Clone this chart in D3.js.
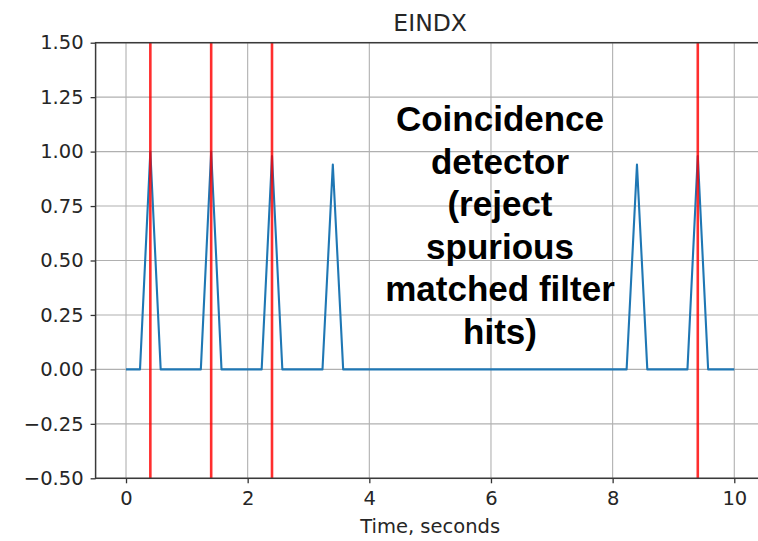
<!DOCTYPE html>
<html>
<head>
<meta charset="utf-8">
<script src="https://cdn.jsdelivr.net/npm/d3@7"></script>
<style>
  html, body { margin: 0; padding: 0; background: #fff; }
  svg { display: block; }
</style>
</head>
<body>
<script>
// EINDX signal samples (time in seconds, amplitude)
const sampleTimes  = [0, 0.23, 0.4, 0.57, 1.23, 1.4, 1.57, 2.23, 2.4, 2.57, 3.23, 3.4, 3.57, 8.23, 8.4, 8.57, 9.23, 9.4, 9.57, 10];
const sampleValues = [0, 0,    1.0, 0,    0,    1.0, 0,    0,    0.98, 0,   0,    0.94, 0,   0,    0.94, 0,   0,    0.98, 0,   0];

// Times of the coincidence detections (vertical markers)
const hitTimes = [0.4, 1.4, 2.4, 9.4];

// Axis ticks
const xTicks = [0, 2, 4, 6, 8, 10];
const yTicks = [-0.5, -0.25, 0, 0.25, 0.5, 0.75, 1.0, 1.25, 1.5];

const titleText = "EINDX";
const xLabelText = "Time, seconds";
const noteLines = ["Coincidence", "detector", "(reject", "spurious", "matched filter", "hits)"];

const W = 758, H = 541;
const plot = { left: 95.6, right: 764.7, top: 42.7, bottom: 478.3 };

const svg = d3.select("body").append("svg")
  .attr("width", W).attr("height", H);

const x = d3.scaleLinear().domain([-0.5, 10.5]).range([plot.left, plot.right]);
const y = d3.scaleLinear().domain([-0.5, 1.5]).range([plot.bottom, plot.top]);

const tickFont = "'DejaVu Sans', sans-serif";
const minusFmt = v => d3.format(".2f")(v).replace("-", "\u2212");

// Grid
const grid = svg.append("g").attr("stroke", "#b0b0b0").attr("stroke-width", 1.1);
grid.selectAll("line.gx").data(xTicks).join("line")
  .attr("x1", d => x(d)).attr("x2", d => x(d))
  .attr("y1", plot.top).attr("y2", plot.bottom);
grid.selectAll("line.gy").data(yTicks).join("line")
  .attr("x1", plot.left).attr("x2", plot.right)
  .attr("y1", d => y(d)).attr("y2", d => y(d));

// Signal line
const pts = sampleTimes.map((t, i) => [t, sampleValues[i]]);
const line = d3.line().x(d => x(d[0])).y(d => y(d[1]));
svg.append("path").datum(pts)
  .attr("d", line)
  .attr("fill", "none")
  .attr("stroke", "#1f77b4")
  .attr("stroke-width", 2.1)
  .attr("stroke-linejoin", "round");

// Detection markers
svg.append("g").selectAll("line").data(hitTimes).join("line")
  .attr("x1", d => x(d)).attr("x2", d => x(d))
  .attr("y1", plot.top).attr("y2", plot.bottom)
  .attr("stroke", "#ff0000")
  .attr("stroke-opacity", 0.82)
  .attr("stroke-width", 2.6);

// Axes
const xAxis = d3.axisBottom(x).tickValues(xTicks).tickFormat(d3.format("d"))
  .tickSize(5).tickPadding(8);
const yAxis = d3.axisLeft(y).tickValues(yTicks).tickFormat(minusFmt)
  .tickSize(5).tickPadding(7);

const gx = svg.append("g").attr("transform", `translate(0,${plot.bottom})`).call(xAxis);
const gy = svg.append("g").attr("transform", `translate(${plot.left},0)`).call(yAxis);
[gx, gy].forEach(g => {
  g.select(".domain").remove();
  g.selectAll(".tick line").attr("stroke", "#333").attr("stroke-width", 1.3);
  g.selectAll(".tick text").attr("fill", "#262626")
    .style("font-family", tickFont).style("font-size", "19.5px");
});

// Spines
const spines = svg.append("g").attr("stroke", "#3a3a3a").attr("stroke-width", 1.5).attr("fill", "none");
spines.append("rect")
  .attr("x", plot.left).attr("y", plot.top)
  .attr("width", plot.right - plot.left).attr("height", plot.bottom - plot.top);

// Title and axis label
const midX = (plot.left + plot.right) / 2;
svg.append("text").attr("x", midX).attr("y", 31)
  .attr("text-anchor", "middle").attr("fill", "#262626")
  .style("font-family", tickFont).style("font-size", "23.5px")
  .text(titleText);
svg.append("text").attr("x", midX).attr("y", 533)
  .attr("text-anchor", "middle").attr("fill", "#262626")
  .style("font-family", tickFont).style("font-size", "19.5px")
  .text(xLabelText);

// Annotation
svg.append("g").selectAll("text").data(noteLines).join("text")
  .attr("x", 500).attr("y", (d, i) => 131 + i * 42.6)
  .attr("text-anchor", "middle").attr("fill", "#000")
  .style("font-family", "'Liberation Sans', Arial, sans-serif")
  .style("font-weight", "bold").style("font-size", "35px")
  .text(d => d);
</script>
</body>
</html>
